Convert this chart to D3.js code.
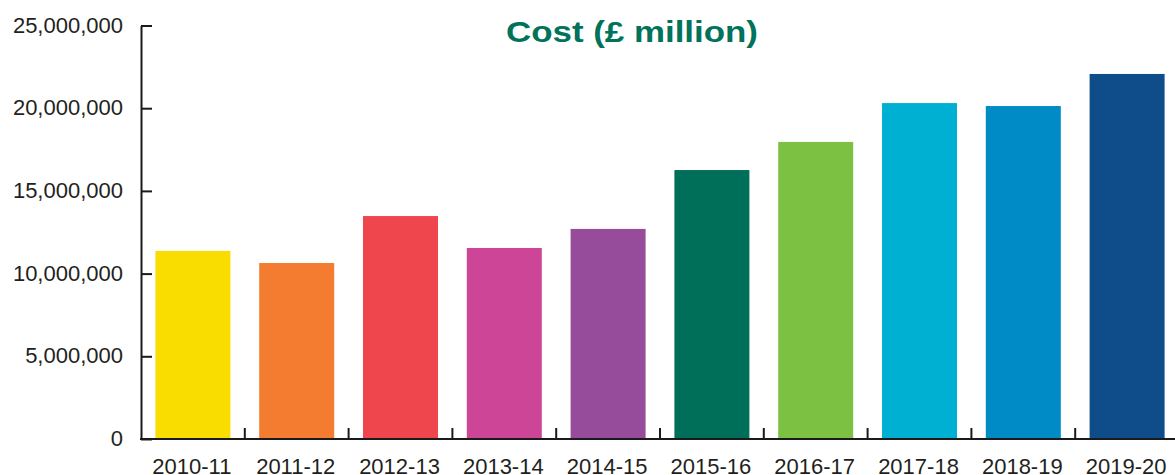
<!DOCTYPE html>
<html>
<head>
<meta charset="utf-8">
<script src="https://cdn.jsdelivr.net/npm/d3@7/dist/d3.min.js"></script>
<style>
  html, body { margin: 0; padding: 0; background: #fff; }
  svg { display: block; }
  .axis text { font-family: "Liberation Sans", Arial, sans-serif; font-size: 22px; fill: #231f20; }
</style>
</head>
<body>
<svg id="chart" width="1175" height="475"></svg>
<script>
// Annual cost by financial year
const years = ["2010-11", "2011-12", "2012-13", "2013-14", "2014-15",
               "2015-16", "2016-17", "2017-18", "2018-19", "2019-20"];
const costs = [11370000, 10640000, 13480000, 11550000, 12700000,
               16260000, 17960000, 20310000, 20130000, 22070000];
const barColors = ["#f9dc00", "#f47c30", "#ee464c", "#cc4596", "#974c9b",
                   "#006f59", "#7dc142", "#00b0d2", "#008ac6", "#0f4c8a"];
const yTicks = [0, 5000000, 10000000, 15000000, 20000000, 25000000];
const title = "Cost (£ million)";

const svg = d3.select("#chart");
const plotLeft = 141, plotRight = 1179, plotTop = 25.5, plotBottom = 439;

const x = d3.scaleBand().domain(years).range([plotLeft, plotRight])
  .paddingInner(0.2775).paddingOuter(0.2775 / 2);
const y = d3.scaleLinear().domain([0, 25000000]).range([plotBottom, plotTop]);

// bars
svg.append("g").selectAll("rect").data(years).join("rect")
  .attr("x", d => x(d))
  .attr("width", x.bandwidth())
  .attr("y", (d, i) => y(costs[i]))
  .attr("height", (d, i) => y(0) - y(costs[i]))
  .attr("fill", (d, i) => barColors[i]);

// y axis, ticks pointing inward
const fmt = d3.format(",");
const yAxis = svg.append("g").attr("class", "axis")
  .attr("transform", `translate(${plotLeft},0)`)
  .call(d3.axisLeft(y).tickValues(yTicks).tickFormat(fmt)
    .tickSizeInner(-11).tickSizeOuter(0).tickPadding(18));
yAxis.selectAll("line, path").attr("stroke", "#1a1a1a").attr("stroke-width", 2);
yAxis.selectAll("text").attr("dy", "0.3em");

// x axis labels
const xAxis = svg.append("g").attr("class", "axis")
  .attr("transform", `translate(0,${plotBottom})`)
  .call(d3.axisBottom(x).tickSize(0).tickPadding(19));
xAxis.select(".domain").remove();
xAxis.selectAll("text").attr("dy", "0.71em").attr("dx", "-1");

// baseline
svg.append("line")
  .attr("x1", plotLeft - 1).attr("x2", 1175)
  .attr("y1", plotBottom).attr("y2", plotBottom)
  .attr("stroke", "#1a1a1a").attr("stroke-width", 2);

// category separators rising from the baseline
const step = x.step();
const bounds = years.slice(1).map(d => x(d) - step * x.paddingInner() / 2);
svg.append("g").selectAll("line").data(bounds).join("line")
  .attr("x1", d => d).attr("x2", d => d)
  .attr("y1", plotBottom).attr("y2", plotBottom - 11)
  .attr("stroke", "#1a1a1a").attr("stroke-width", 2);

// title
svg.append("text")
  .attr("x", 632).attr("y", 42)
  .attr("text-anchor", "middle")
  .attr("textLength", 252)
  .attr("lengthAdjust", "spacingAndGlyphs")
  .style("font-family", "'Liberation Sans', Arial, sans-serif")
  .style("font-weight", "bold")
  .style("font-size", "30px")
  .attr("fill", "#00735a")
  .text(title);
</script>
</body>
</html>
